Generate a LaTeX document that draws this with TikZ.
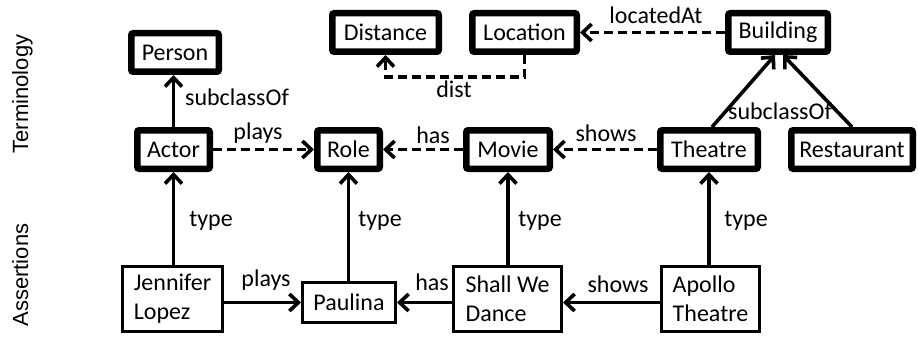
\documentclass[tikz,border=0pt]{standalone}
\usepackage{fontspec}
\setmainfont{Carlito}
\newfontfamily\sidefont{Liberation Sans}
\usetikzlibrary{arrows.meta}
\begin{document}
\begin{tikzpicture}[x=1pt,y=-1pt,
  font=\fontsize{24}{29}\selectfont,
  cls/.style={draw,line width=6.5pt,rounded corners=2pt,inner sep=0pt,minimum height=38.5pt},
  inst/.style={draw,line width=3.3pt,inner sep=0pt,align=left,minimum height=64.7pt},
  rel/.style={line width=3.6pt,-{Straight Barb[length=9pt,width=17pt]}},
  drel/.style={rel,dash pattern=on 9pt off 5pt},
  lbl/.style={inner sep=0pt},
  side/.style={inner sep=0pt,rotate=90,anchor=base,font=\sidefont\fontsize{22}{26}\selectfont}]
\useasboundingbox (0,0) rectangle (918,337);
% side labels
\node[side] (term) at (28,94) {Terminology};
\node[side] (asse) at (28,275) {Assertions};
% terminology
\node[cls,minimum width=87.5pt] (person) at (175,52.5) {Person};
\node[cls,minimum width=106.5pt] (dist) at (385.5,32.5) {Distance};
\node[cls,minimum width=104.5pt] (loc) at (524.5,32.5) {Location};
\node[cls,minimum width=99.5pt] (bld) at (778,32.5) {Building};
\node[cls,minimum width=72.5pt] (actor) at (173.5,149.5) {Actor};
\node[cls,minimum width=62.5pt] (role) at (348.5,149.5) {Role};
\node[cls,minimum width=83.5pt] (movie) at (508,149.5) {Movie};
\node[cls,minimum width=97.5pt] (theatre) at (709,149.5) {Theatre};
\node[cls,minimum width=121.5pt] (rest) at (852,149.5) {Restaurant};
% assertions
\node[inst,minimum width=99.7pt] (jl) at (172.5,299) {Jennifer\\Lopez};
\node[inst,minimum width=92.7pt,minimum height=39.7pt] (pa) at (349,302.5) {Paulina};
\node[inst,minimum width=107.7pt] (swd) at (507.5,299) {Shall We\\Dance};
\node[inst,minimum width=97.7pt] (ap) at (710.5,299) {Apollo\\Theatre};
% terminology edges
\draw[rel] (actor.north) -- (actor.north |- person.south);
\node[lbl] (l1) at (237,97) {subclassOf};
\draw[drel] (actor.east) -- (role.west);
\node[lbl] (l2) at (258,133) {plays};
\draw[drel] (movie.west) -- (role.east);
\node[lbl] (l3) at (433,135) {has};
\draw[drel] (theatre.west) -- (movie.east);
\node[lbl] (l4) at (606,133) {shows};
\draw[drel] (bld.west) -- (loc.east);
\node[lbl] (l5) at (656,15) {locatedAt};
\coordinate (dk) at (385.5,77);
\draw[drel] (loc.south) |- (dk) -- (dist.south);
\node[lbl] (l6) at (454,89) {dist};
\draw[rel] ([xshift=3pt]theatre.north) -- ([xshift=-3pt]bld.south);
\draw[rel] (rest.north) -- ([xshift=5pt]bld.south);
\node[lbl] (l7) at (780,111) {subclassOf};
% type edges
\draw[rel] (jl.north -| actor) -- (actor.south);
\node[lbl] (t1) at (211,221) {type};
\draw[rel] (pa.north -| role) -- (role.south);
\node[lbl] (t2) at (380,221) {type};
\draw[rel] (swd.north -| movie) -- (movie.south);
\node[lbl] (t3) at (540,221) {type};
\draw[rel] (ap.north -| theatre) -- (theatre.south);
\node[lbl] (t4) at (746,221) {type};
% assertion edges
\draw[rel] (jl.east |- pa) -- (pa.west);
\node[lbl] (a1) at (266,280) {plays};
\draw[rel] (swd.west |- pa) -- (pa.east);
\node[lbl] (a2) at (432,282) {has};
\draw[rel] (ap.west |- pa) -- (swd.east |- pa);
\node[lbl] (a3) at (618,284) {shows};
\end{tikzpicture}
\end{document}
